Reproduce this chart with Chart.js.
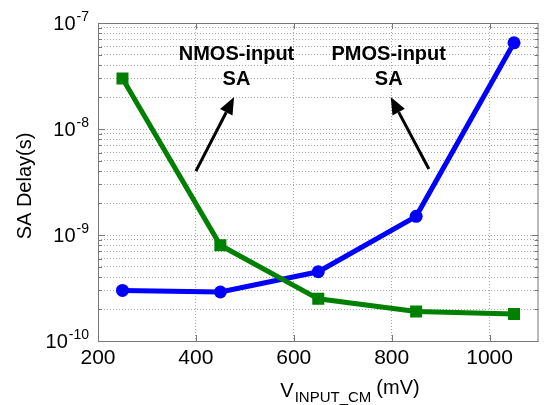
<!DOCTYPE html>
<html>
<head>
<meta charset="utf-8">
<script src="https://cdn.jsdelivr.net/npm/chart.js@4"></script>
<style>
  html, body { margin: 0; padding: 0; background: #fff; }
  #wrap { width: 547px; height: 405px; }
</style>
</head>
<body>
<div id="wrap"><canvas id="delayChart" width="547" height="405"></canvas></div>
<script>
// Datos
const vInputCm = [250, 450, 650, 850, 1050];
const nmosDelay = [3.0e-8, 8.0e-10, 2.5e-10, 1.9e-10, 1.8e-10];
const pmosDelay = [3.0e-10, 2.9e-10, 4.5e-10, 1.5e-9, 6.5e-8];
const xTicks = [200, 400, 600, 800, 1000];
const decades = [-10, -9, -8, -7];

const FONT = '"Liberation Sans", Arial, sans-serif';
const FRAME = '#777';

// Ticks del eje log: 1..9 por decada
function logTicks() {
    const ticks = [];
    for (let i = 0; i < decades.length - 1; i++) {
        for (let m = 1; m <= 9; m++) {
            ticks.push({ value: m * Math.pow(10, decades[i]), major: m === 1 });
        }
    }
    ticks.push({ value: Math.pow(10, decades[decades.length - 1]), major: true });
    return ticks;
}

function drawArrow(ctx, x1, y1, x2, y2) {
    const ang = Math.atan2(y2 - y1, x2 - x1);
    const len = 17, half = 7;
    const bx = x2 - len * Math.cos(ang), by = y2 - len * Math.sin(ang);
    ctx.strokeStyle = '#000';
    ctx.fillStyle = '#000';
    ctx.lineWidth = 3;
    ctx.beginPath();
    ctx.moveTo(x1, y1);
    ctx.lineTo(bx, by);
    ctx.stroke();
    ctx.beginPath();
    ctx.moveTo(x2, y2);
    ctx.lineTo(bx + half * Math.sin(ang), by - half * Math.cos(ang));
    ctx.lineTo(bx - half * Math.sin(ang), by + half * Math.cos(ang));
    ctx.closePath();
    ctx.fill();
}

// Marco, ticks interiores, etiquetas 10^n, titulos y anotaciones
const decorPlugin = {
    id: 'decor',
    afterDraw(chart) {
        const { ctx, chartArea: a, scales: { x, y } } = chart;
        ctx.save();

        ctx.strokeStyle = FRAME;
        ctx.lineWidth = 1;
        ctx.strokeRect(a.left + 0.5, a.top + 0.5, a.right - a.left - 1, a.bottom - a.top);

        ctx.beginPath();
        xTicks.forEach(v => {
            const px = Math.round(x.getPixelForValue(v)) + 0.5;
            ctx.moveTo(px, a.bottom); ctx.lineTo(px, a.bottom - 6);
            ctx.moveTo(px, a.top); ctx.lineTo(px, a.top + 6);
        });
        y.ticks.forEach(t => {
            const py = Math.round(y.getPixelForValue(t.value)) + 0.5;
            const l = t.major ? 7 : 4;
            ctx.moveTo(a.left, py); ctx.lineTo(a.left + l, py);
            ctx.moveTo(a.right, py); ctx.lineTo(a.right - l, py);
        });
        ctx.stroke();

        // Etiquetas del eje Y con exponente
        ctx.fillStyle = '#000';
        ctx.textBaseline = 'alphabetic';
        decades.forEach(e => {
            const py = y.getPixelForValue(Math.pow(10, e));
            const sup = String(e);
            ctx.font = '14px ' + FONT;
            const sw = ctx.measureText(sup).width;
            const right = a.left - 9;
            ctx.textAlign = 'left';
            ctx.fillText(sup, right - sw, py - 2);
            ctx.font = '20px ' + FONT;
            ctx.textAlign = 'right';
            ctx.fillText('10', right - sw - 1, py + 7);
        });

        // Titulo eje Y
        ctx.save();
        ctx.translate(25, (a.top + a.bottom) / 2 + 4);
        ctx.rotate(-Math.PI / 2);
        ctx.font = '20px ' + FONT;
        ctx.textAlign = 'center';
        ctx.textBaseline = 'middle';
        ctx.fillText('SA Delay(s)', 0, 0);
        ctx.restore();

        // Titulo eje X con subindice
        ctx.textAlign = 'left';
        ctx.font = '20px ' + FONT;
        const wV = ctx.measureText('V').width;
        const wU = ctx.measureText('(mV)').width;
        ctx.font = '15px ' + FONT;
        const wS = ctx.measureText('INPUT_CM').width;
        let tx = 350 - (wV + 1 + wS + 5 + wU) / 2;
        ctx.font = '20px ' + FONT;
        ctx.fillText('V', tx, 397);
        tx += wV + 1;
        ctx.font = '15px ' + FONT;
        ctx.fillText('INPUT_CM', tx, 402);
        tx += wS + 5;
        ctx.font = '20px ' + FONT;
        ctx.fillText('(mV)', tx, 394);

        // Anotaciones
        ctx.font = 'bold 20px ' + FONT;
        ctx.textAlign = 'center';
        const labels = [
            { x: 483, lines: ['NMOS-input', 'SA'], from: [400, 4e-9], to: [478, 2e-8] },
            { x: 794, lines: ['PMOS-input', 'SA'], from: [876, 4.2e-9], to: [798, 2e-8] }
        ];
        labels.forEach(l => {
            const cx = x.getPixelForValue(l.x);
            ctx.fillText(l.lines[0], cx, y.getPixelForValue(5.2e-8) + 7);
            ctx.fillText(l.lines[1], cx, y.getPixelForValue(3.0e-8) + 7);
            drawArrow(ctx,
                x.getPixelForValue(l.from[0]), y.getPixelForValue(l.from[1]),
                x.getPixelForValue(l.to[0]), y.getPixelForValue(l.to[1]));
        });

        ctx.restore();
    }
};

const ctx = document.getElementById('delayChart').getContext('2d');
new Chart(ctx, {
    type: 'line',
    data: {
        datasets: [{
            label: 'NMOS-input SA',
            data: vInputCm.map((v, i) => ({ x: v, y: nmosDelay[i] })),
            borderColor: '#008000',
            backgroundColor: '#008000',
            borderWidth: 5,
            pointStyle: 'rect',
            pointRadius: 8.5,
            pointBorderWidth: 0,
            tension: 0
        }, {
            label: 'PMOS-input SA',
            data: vInputCm.map((v, i) => ({ x: v, y: pmosDelay[i] })),
            borderColor: '#0000ff',
            backgroundColor: '#0000ff',
            borderWidth: 5,
            pointStyle: 'circle',
            pointRadius: 6.5,
            pointBorderWidth: 0,
            tension: 0
        }]
    },
    options: {
        responsive: false,
        animation: false,
        layout: { padding: { top: 23, right: 3, left: 0, bottom: 0 } },
        plugins: { legend: { display: false }, tooltip: { enabled: false } },
        scales: {
            x: {
                type: 'linear',
                min: 200,
                max: 1100,
                afterBuildTicks: s => { s.ticks = xTicks.map(v => ({ value: v })); },
                afterFit: s => { s.height = 64; },
                ticks: {
                    color: '#000',
                    font: { family: FONT, size: 21 },
                    padding: 5,
                    maxRotation: 0,
                    callback: v => String(v)
                },
                grid: { color: '#aaa', drawTicks: false, lineWidth: 1 },
                border: { display: false, dash: [1, 2] }
            },
            y: {
                type: 'logarithmic',
                min: 1e-10,
                max: 1e-7,
                afterBuildTicks: s => { s.ticks = logTicks(); },
                afterFit: s => { s.width = 98; },
                ticks: { display: false },
                grid: { color: '#aaa', drawTicks: false, lineWidth: 1 },
                border: { display: false, dash: [1, 2] }
            }
        }
    },
    plugins: [decorPlugin]
});
</script>
</body>
</html>
